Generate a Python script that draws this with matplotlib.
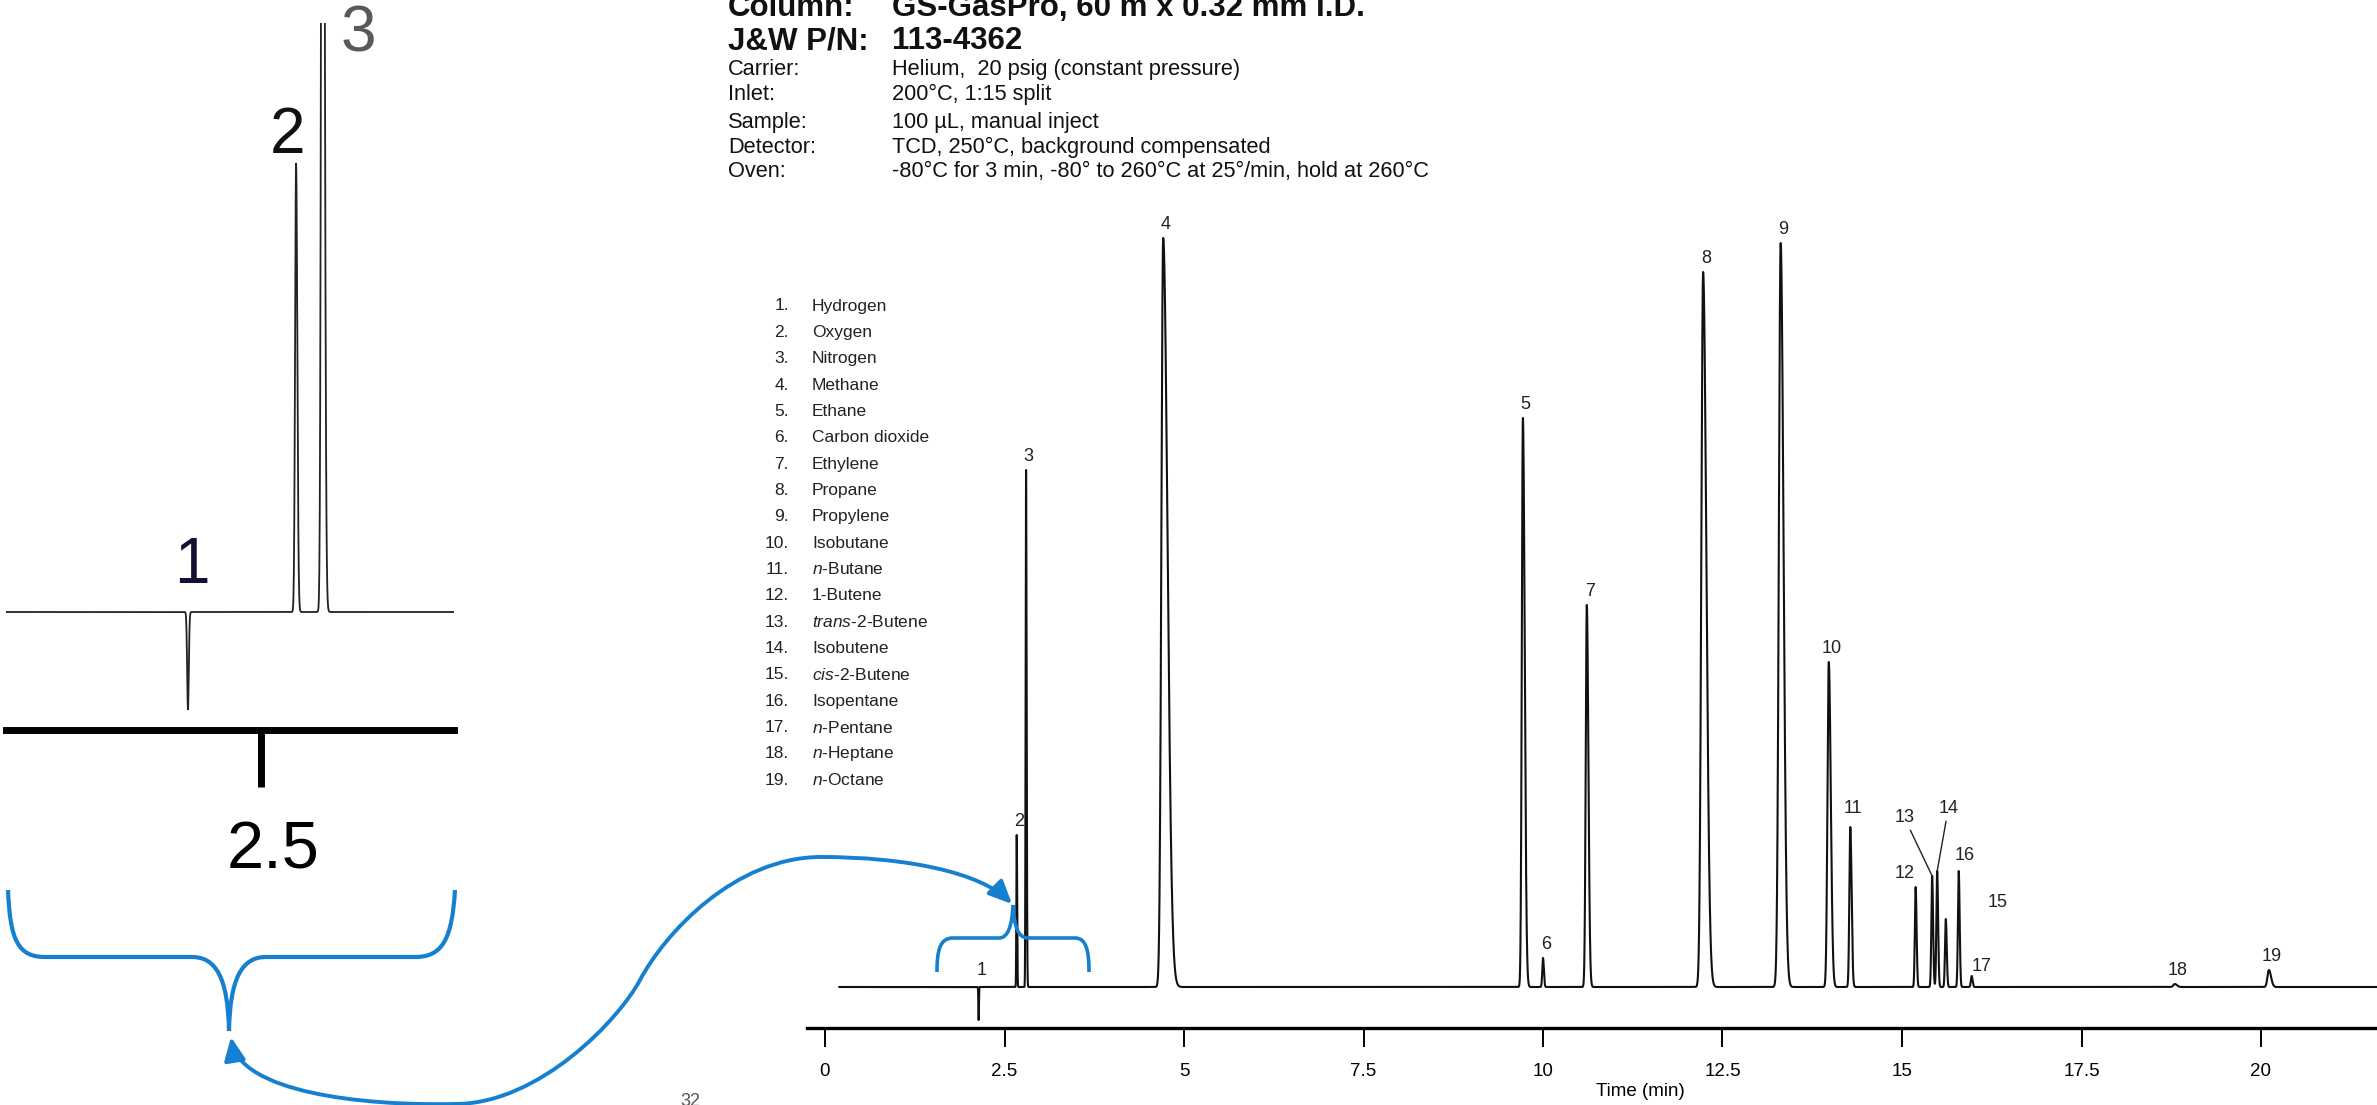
import numpy as np
import matplotlib.pyplot as plt
from matplotlib.path import Path
from matplotlib.patches import FancyArrowPatch, PathPatch
from matplotlib.transforms import ScaledTranslation

plt.rcParams["font.family"] = ["Liberation Sans", "DejaVu Sans"]
plt.rcParams["mathtext.fontset"] = "custom"
plt.rcParams["mathtext.rm"] = "Liberation Sans"
plt.rcParams["mathtext.it"] = "Liberation Sans:italic"

W, H = 2377, 1105          # output size in px (dpi 100)
BLUE = "#1580d0"

# ---------------- data ----------------
# retention time (min), peak height (detector units), leading / tailing width (min)
peak_no = [str(i) for i in range(1, 20)]
ret_time = [2.14, 2.67, 2.80, 4.71, 9.72, 10.00, 10.61, 12.23, 13.31, 13.98,
            14.28, 15.19, 15.42, 15.49, 15.61, 15.79, 15.97, 18.80, 20.11]
height = [-33, 152, 517, 749, 569, 29, 382, 715, 744, 325,
          160, 100, 111, 116, 68, 116, 11, 3, 17]
width_lead = [0.004, 0.005, 0.006, 0.025, 0.015, 0.010, 0.015, 0.025, 0.025, 0.018,
              0.013, 0.011, 0.011, 0.011, 0.011, 0.011, 0.011, 0.02, 0.02]
width_tail = [0.004, 0.006, 0.008, 0.060, 0.025, 0.012, 0.022, 0.045, 0.040, 0.028,
              0.018, 0.013, 0.013, 0.013, 0.013, 0.013, 0.013, 0.03, 0.03]

compounds = ["Hydrogen", "Oxygen", "Nitrogen", "Methane", "Ethane", "Carbon dioxide",
             "Ethylene", "Propane", "Propylene", "Isobutane", r"$\mathit{n}$-Butane",
             "1-Butene", r"$\mathit{trans}$-2-Butene", "Isobutene", r"$\mathit{cis}$-2-Butene",
             "Isopentane", r"$\mathit{n}$-Pentane", r"$\mathit{n}$-Heptane", r"$\mathit{n}$-Octane"]

header_keys = ["Column:", "J&W P/N:", "Carrier:", "Inlet:", "Sample:", "Detector:", "Oven:"]
header_vals = ["GS-GasPro, 60 m x 0.32 mm I.D.", "113-4362",
               "Helium,  20 psig (constant pressure)", "200°C, 1:15 split",
               "100 µL, manual inject", "TCD, 250°C, background compensated",
               "-80°C for 3 min, -80° to 260°C at 25°/min, hold at 260°C"]

main_ticks = [0, 2.5, 5, 7.5, 10, 12.5, 15, 17.5, 20]
main_ticklabels = ["0", "2.5", "5", "7.5", "10", "12.5", "15", "17.5", "20"]


def px(x, y):
    """pixel position (origin top-left) -> figure fraction"""
    return (x / W, 1 - y / H)


# build the detector trace from the peak table
t = np.arange(0.2, 21.7, 0.001)
signal = np.zeros_like(t)
for t0, h, sl, sr in zip(ret_time, height, width_lead, width_tail):
    s = np.where(t < t0, sl, sr)
    signal += h * np.exp(-0.5 * ((t - t0) / s) ** 2)

fig = plt.figure(figsize=(W / 100, H / 100), dpi=100)

# ---------------- main chromatogram ----------------
ax = fig.add_axes([807 / W, 1 - 1028 / H, (W - 807) / W, (1028 - 200) / H])
ax.plot(t, signal, color="#111111", lw=1.5)
ax.set_xlim((807 - 825) / 71.8, (W - 825) / 71.8)
ax.set_ylim(-41, 787)
for s in ["left", "top", "right"]:
    ax.spines[s].set_visible(False)
ax.spines["bottom"].set_linewidth(2.4)
ax.set_yticks([])
ax.set_xticks(main_ticks)
ax.set_xticklabels(main_ticklabels)
ax.tick_params(axis="x", direction="out", length=14, width=1.4, pad=11, labelsize=13.5)
ax.set_xlabel("Time (min)", fontsize=13.5)
ax.xaxis.set_label_coords((1640 - 807) / (W - 807), -0.066)

# peak labels: default just above the apex, a few placed by hand
offsets = {"1": (2, 12), "11": (2, 13), "12": (-8, 10), "13": (-20, 42),
           "14": (8, 45), "15": (37, 12), "16": (4, 11), "17": (7, 6.5)}
for lab, t0, h in zip(peak_no, ret_time, height):
    dx, dy = offsets.get(lab, (2, 10))
    kw = {}
    if lab in ("13", "14"):
        kw["arrowprops"] = dict(arrowstyle="-", lw=1.0, color="#222222",
                                shrinkA=1, shrinkB=0)
    ax.annotate(lab, xy=(t0, max(h, 0)), xytext=(dx, dy), textcoords="offset points",
                ha="center", va="center", fontsize=13, color="#222222", **kw)

# ---------------- header ----------------
base_y = [16, 49, 75, 100, 128, 153, 177]
for i, (k, v) in enumerate(zip(header_keys, header_vals)):
    bold = i < 2
    fs = 22.5 if bold else 15.7
    fw = "bold" if bold else "normal"
    fig.text(*px(728, base_y[i]), k, fontsize=fs, fontweight=fw, va="baseline", color="#111111")
    fig.text(*px(892, base_y[i]), v, fontsize=fs, fontweight=fw, va="baseline", color="#111111")

# ---------------- compound list ----------------
for i, (n, name) in enumerate(zip(peak_no, compounds)):
    y = 306 + i * 26.35
    fig.text(*px(789, y), n + ".", fontsize=12.5, ha="right", va="center", color="#222222")
    fig.text(*px(812, y), name, fontsize=12.5, ha="left", va="center", color="#222222")

# ---------------- zoomed inset (left) ----------------
axi = fig.add_axes([6 / W, 1 - 730 / H, 448 / W, (730 - 23) / H])
axi.plot(t, signal, color="#222222", lw=1.3)
axi.set_xlim(1.248, 3.444)
axi.set_ylim(-(730 - 612) / 2.95, (612 - 23) / 2.95)
for s in ["left", "top", "right"]:
    axi.spines[s].set_visible(False)
axi.spines["bottom"].set_linewidth(5)
axi.set_yticks([])
axi.set_xticks([2.5])
axi.set_xticklabels(["2.5"])
axi.tick_params(axis="x", direction="out", length=41, width=5, pad=24, labelsize=48)
for lbl in axi.get_xticklabels():
    lbl.set_transform(lbl.get_transform() + ScaledTranslation(0.12, 0, fig.dpi_scale_trans))
fig.text(*px(192, 566), "1", fontsize=46, ha="center", va="center", color="#111133")
fig.text(*px(288, 136), "2", fontsize=46, ha="center", va="center", color="#111111")
fig.text(*px(358, 35), "3", fontsize=46, ha="center", va="center", color="#595959")

# stray clipped page fragment at the bottom
fig.text(*px(690, 1093), "32", fontsize=13, ha="center", va="top", color="#555555")

# ---------------- blue braces and arrow ----------------
M, L, C = Path.MOVETO, Path.LINETO, Path.CURVE4


def brace(pts, codes, lw):
    verts = [px(x, y) for x, y in pts]
    fig.add_artist(PathPatch(Path(verts, codes), transform=fig.transFigure,
                             fill=False, edgecolor=BLUE, lw=lw, capstyle="butt"))


big = [(8, 890), (10, 940), (18, 957), (45, 957), (192, 957),
       (216, 957), (228, 978), (229, 1031),
       (230, 978), (242, 957), (266, 957), (415, 957),
       (442, 957), (452, 940), (455, 890)]
brace_codes = [M, C, C, C, L, C, C, C, C, C, C, L, C, C, C]
brace(big, brace_codes, 3.0)

small = [(937, 972), (937, 950), (940, 938), (953, 938), (999, 938),
         (1008, 938), (1012, 926), (1013, 905),
         (1014, 926), (1018, 938), (1028, 938), (1075, 938),
         (1086, 938), (1089, 950), (1089, 972)]
brace(small, brace_codes, 2.6)

arrow_pts = [(231, 1037),
             (240, 1092), (360, 1106), (455, 1104),
             (540, 1104), (620, 1018), (640, 980),
             (665, 933), (735, 857), (821, 857),
             (905, 857), (980, 872), (1012, 904)]
arrow_codes = [M] + [C] * 12
arrow = FancyArrowPatch(path=Path([px(x, y) for x, y in arrow_pts], arrow_codes),
                        arrowstyle="<|-|>,head_length=0.7,head_width=0.32",
                        mutation_scale=20, lw=2.8, color=BLUE,
                        transform=fig.transFigure)
fig.add_artist(arrow)

fig.savefig("out.png", dpi=100)
